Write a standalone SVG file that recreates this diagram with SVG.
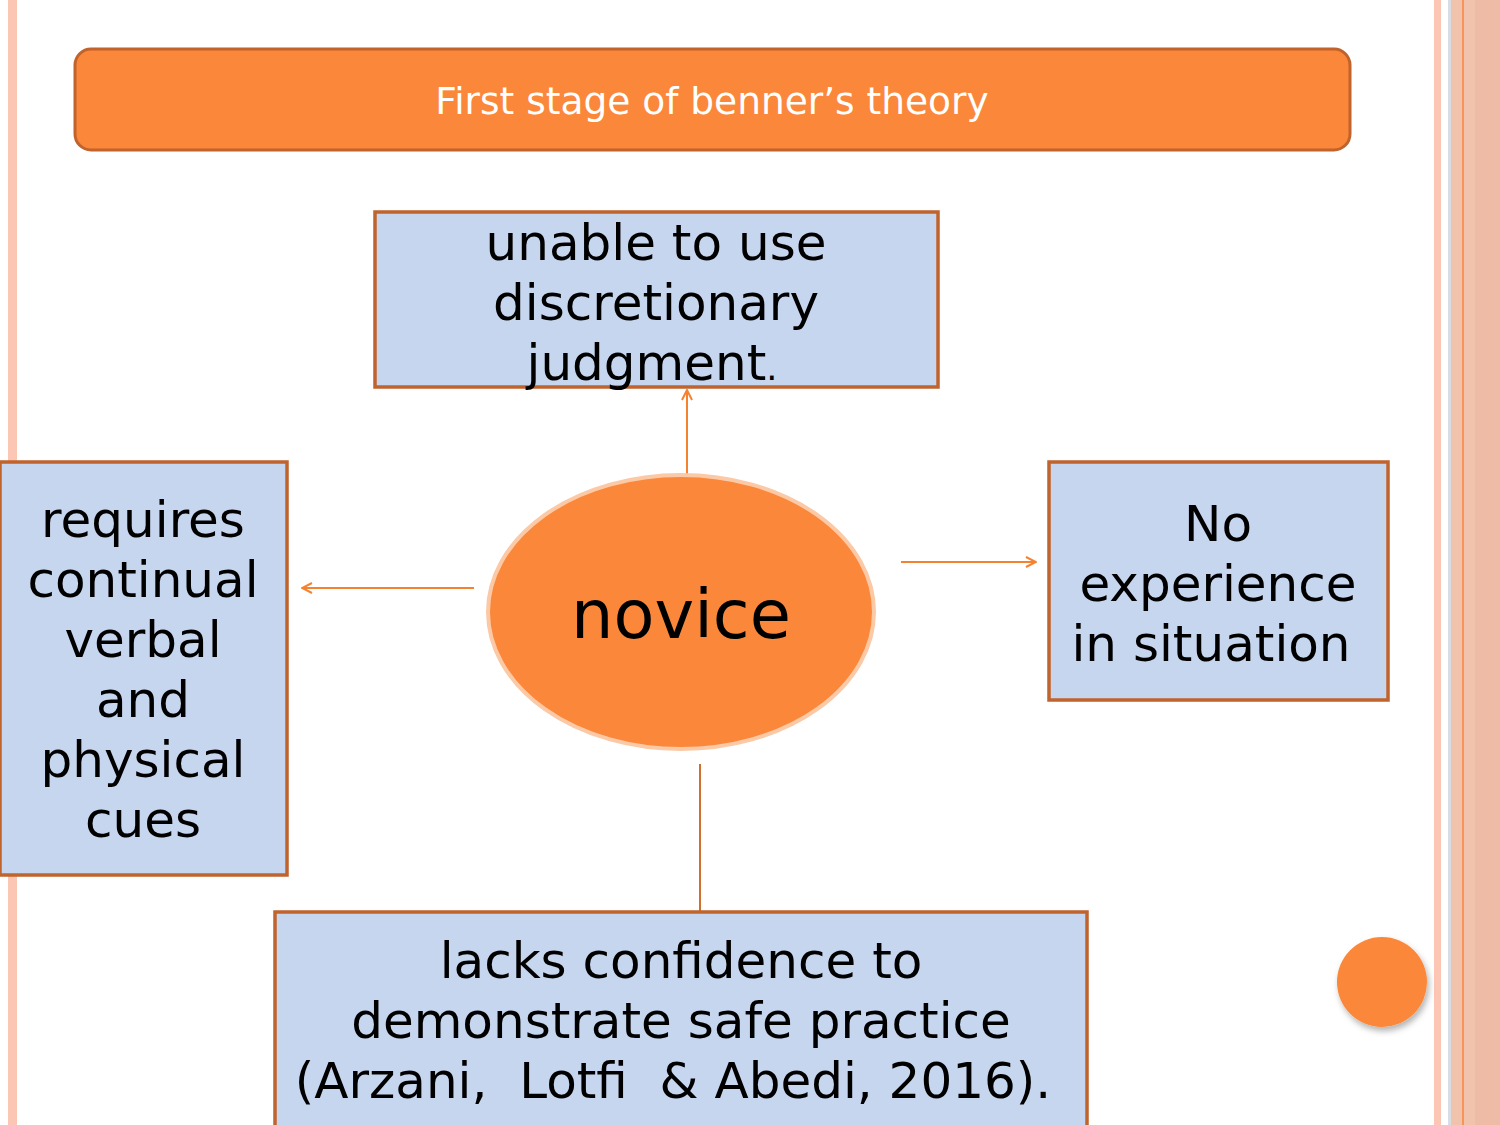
<svg xmlns="http://www.w3.org/2000/svg" width="1500" height="1125" viewBox="0 0 1500 1125">
<defs>
<style>
.box{fill:#c7d6ef;stroke:#c0632c;stroke-width:3.5}
.t{font-family:"DejaVu Sans",sans-serif;fill:#000;text-anchor:middle}
.c{stroke:#f5822f;stroke-width:2;fill:none}
</style>
<marker id="ah" viewBox="0 0 12 12" refX="11" refY="6" markerWidth="12" markerHeight="12" markerUnits="userSpaceOnUse" orient="auto">
<path d="M1,1 L11,6 L1,11" fill="none" stroke="#f5822f" stroke-width="2"/>
</marker>
<filter id="sh" x="-30%" y="-30%" width="160%" height="160%">
<feDropShadow dx="2" dy="4" stdDeviation="3" flood-color="#000" flood-opacity="0.3"/>
</filter>
</defs>
<rect width="1500" height="1125" fill="#fff"/>
<rect x="8" y="0" width="9" height="1125" fill="#fcc6b5"/>
<g id="rightBorder">
<rect x="1434" y="0" width="7" height="1125" fill="#fcc6b5"/>
<rect x="1448" y="0" width="3" height="1125" fill="#d7dde3"/>
<rect x="1451" y="0" width="49" height="1125" fill="#f1c2ac"/>
<rect x="1475" y="0" width="25" height="1125" fill="#eebba6"/>
<rect x="1462" y="0" width="2" height="1125" fill="#f79457"/>
</g>
<g id="title">
<rect x="75" y="49" width="1275" height="101" rx="16" fill="#fb873a" stroke="#c0632c" stroke-width="3"/>
<text x="712" y="114" font-family="'DejaVu Sans',sans-serif" font-size="37.5" fill="#fff" text-anchor="middle">First stage of benner’s theory</text>
</g>
<g id="connectors">
<line class="c" x1="687" y1="474" x2="687" y2="390" marker-end="url(#ah)"/>
<line class="c" x1="474" y1="588" x2="302" y2="588" marker-end="url(#ah)"/>
<line class="c" x1="901" y1="562" x2="1036" y2="562" marker-end="url(#ah)"/>
<line x1="700" y1="764" x2="700" y2="912" stroke="#d0702e" stroke-width="2"/>
</g>
<g id="top">
<rect class="box" x="375" y="212" width="563" height="175"/>
<text class="t" font-size="50"><tspan x="656" y="260">unable to use</tspan><tspan x="656" y="320">discretionary</tspan><tspan x="652" y="380">judgment<tspan font-size="35">.</tspan></tspan></text>
</g>
<g id="left">
<rect class="box" x="0" y="462" width="287" height="413"/>
<text class="t" font-size="50"><tspan x="143" y="537">requires</tspan><tspan x="143" y="597">continual</tspan><tspan x="143" y="657">verbal</tspan><tspan x="143" y="717">and</tspan><tspan x="143" y="777">physical</tspan><tspan x="143" y="837">cues</tspan></text>
</g>
<g id="right">
<rect class="box" x="1049" y="462" width="339" height="238"/>
<text class="t" font-size="50"><tspan x="1218" y="541">No</tspan><tspan x="1218" y="601">experience</tspan><tspan x="1211" y="661">in situation</tspan></text>
</g>
<g id="novice">
<ellipse cx="681" cy="612" rx="193" ry="137" fill="#fb873a" stroke="#fbc9a6" stroke-width="4"/>
<text class="t" x="681" y="638" font-size="67">novice</text>
</g>
<g id="bottom">
<rect class="box" x="275" y="912" width="812" height="220"/>
<text class="t" font-size="50"><tspan x="681" y="978">lacks confidence to</tspan><tspan x="681" y="1038">demonstrate safe practice</tspan><tspan x="673" y="1098" xml:space="preserve">(Arzani,  Lotfi  &amp; Abedi, 2016).</tspan></text>
</g>
<g id="dot">
<circle cx="1382" cy="982" r="45" fill="#fb873a" filter="url(#sh)"/>
</g>
</svg>
